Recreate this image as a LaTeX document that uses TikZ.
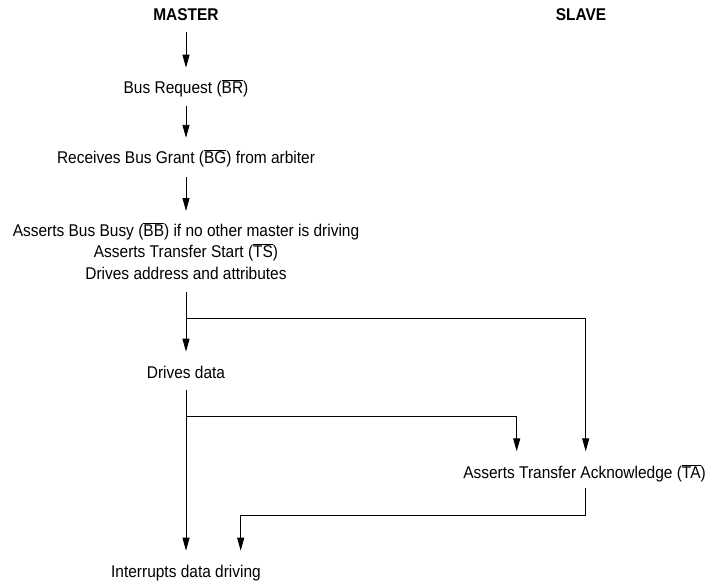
\documentclass[tikz,border=0pt]{standalone}
\usepackage{fontspec}
\setmainfont{Liberation Sans}[FakeStretch=0.91]
\usetikzlibrary{arrows.meta}
\newcommand{\ovl}[1]{\smash{$\overline{\mbox{#1}}$}}
\begin{document}
\begin{tikzpicture}[x=1pt,y=-1pt,
  lbl/.style={anchor=base, inner sep=0pt, outer sep=0pt, text height=12.5pt, text depth=3.5pt, font=\fontsize{17}{21.4}\selectfont},
  hd/.style={lbl, font=\fontsize{17}{21.4}\selectfont\bfseries},
  ml/.style={anchor=north, inner sep=0pt, outer sep=0pt, align=center, font=\fontsize{17}{21.4}\selectfont},
  flow/.style={draw=black, line width=0.9pt, -{Triangle[length=13pt,width=7pt]}}]
\useasboundingbox (0,0) rectangle (710,582);
\node[hd] (master) at (186,20.7) {MASTER};
\node[hd] (slave) at (581,20.7) {SLAVE};
\node[lbl] (br) at (186,93.7) {Bus Request (\ovl{BR})};
\node[lbl] (bg) at (186,163.3) {Receives Bus Grant (\ovl{BG}) from arbiter};
\node[ml] (ad) at (186,224) {Asserts Bus Busy (\ovl{BB}) if no other master is driving\\Asserts Transfer Start (\ovl{TS})\\Drives address and attributes};
\node[lbl] (dd) at (186,378.7) {Drives data};
\node[lbl] (ta) at (584.5,478.3) {Asserts Transfer Acknowledge (\ovl{TA})};
\node[lbl] (id) at (186,577.7) {Interrupts data driving};
\coordinate (j1) at (186,318);
\coordinate (j1r) at (585.7,318);
\coordinate (j2) at (186,416.5);
\coordinate (j2r) at (516.7,416.5);
\coordinate (k1) at (585.7,515.5);
\coordinate (k2) at (240.7,515.5);
\draw[flow, shorten <=8pt, shorten >=13.5pt] (master.south) -- (br.north);
\draw[flow, shorten <=8.5pt, shorten >=13pt] (br.south) -- (bg.north);
\draw[flow, shorten <=10pt, shorten >=13pt] (bg.south) -- (ad.north);
\draw[flow, shorten <=12.7pt, shorten >=14.5pt] (ad.south) -- (dd.north);
\draw[flow, shorten >=14.5pt] (j1) -- (j1r) -- (j1r |- ta.north);
\draw[flow, shorten <=7.5pt, shorten >=14.5pt] (dd.south) -- (id.north);
\draw[flow, shorten >=14.5pt] (j2) -- (j2r) -- (j2r |- ta.north);
\draw[flow, shorten <=6.5pt, shorten >=14.5pt] (ta.south -| k1) -- (k1) -- (k2) -- (k2 |- id.north);
\end{tikzpicture}
\end{document}
